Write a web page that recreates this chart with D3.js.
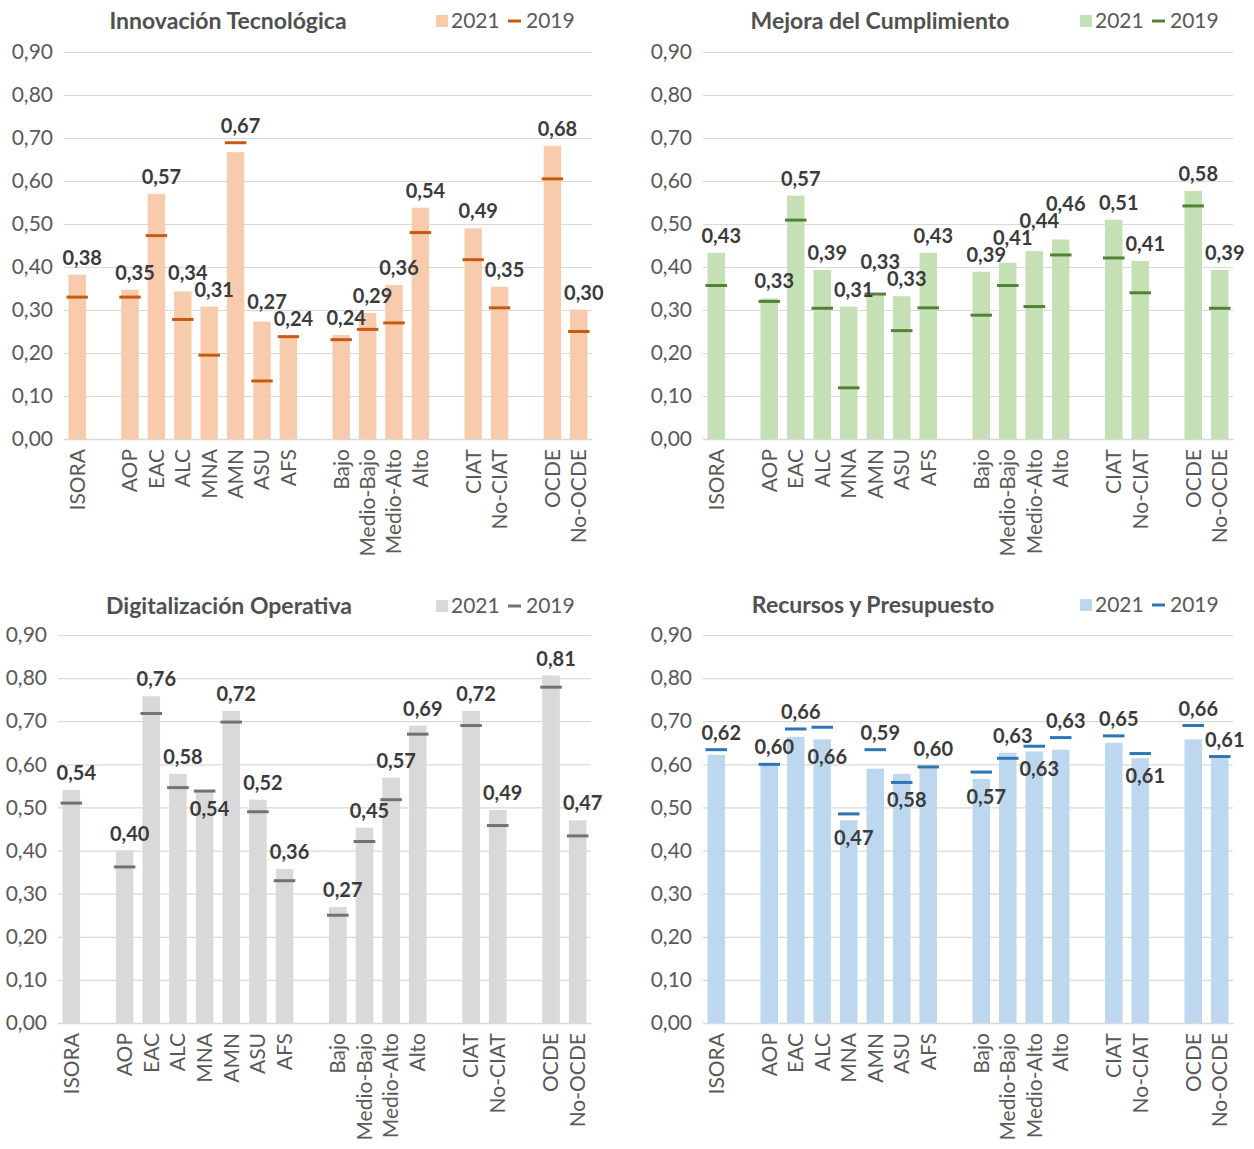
<!DOCTYPE html>
<html>
<head>
<meta charset="utf-8">
<script src="https://cdn.jsdelivr.net/npm/d3@7"></script>
<style>
  body { margin: 0; background: #fff; }
  text { font-family: Lato, "Noto Sans", sans-serif; }
</style>
</head>
<body>
<svg id="chart" width="1254" height="1149"></svg>
<script>
// categories (null = empty slot between groups)
const categories = ['ISORA', null, 'AOP', 'EAC', 'ALC', 'MNA', 'AMN', 'ASU', 'AFS', null,
  'Bajo', 'Medio-Bajo', 'Medio-Alto', 'Alto', null, 'CIAT', 'No-CIAT', null, 'OCDE', 'No-OCDE'];
const yTicks = [0, 0.1, 0.2, 0.3, 0.4, 0.5, 0.6, 0.7, 0.8, 0.9];
const legendLabels = ['2021', '2019'];

// values per real category, in order
const innov2021 = [0.382, 0.347, 0.570, 0.343, 0.308, 0.667, 0.273, 0.240, 0.242, 0.293, 0.358, 0.538, 0.490, 0.354, 0.682, 0.301];
const innov2019 = [0.330, 0.330, 0.473, 0.278, 0.195, 0.689, 0.135, 0.238, 0.231, 0.255, 0.270, 0.480, 0.417, 0.305, 0.605, 0.250];

const mejora2021 = [0.433, 0.327, 0.566, 0.393, 0.308, 0.334, 0.332, 0.433, 0.389, 0.410, 0.437, 0.464, 0.510, 0.414, 0.577, 0.393];
const mejora2019 = [0.357, 0.320, 0.509, 0.304, 0.119, 0.337, 0.252, 0.305, 0.288, 0.357, 0.308, 0.428, 0.421, 0.340, 0.542, 0.304];

const digi2021 = [0.541, 0.400, 0.758, 0.578, 0.540, 0.724, 0.518, 0.357, 0.269, 0.453, 0.569, 0.690, 0.724, 0.494, 0.806, 0.470];
const digi2019 = [0.510, 0.362, 0.718, 0.546, 0.538, 0.698, 0.490, 0.330, 0.250, 0.421, 0.518, 0.670, 0.690, 0.458, 0.779, 0.434];

const recursos2021 = [0.622, 0.600, 0.664, 0.658, 0.470, 0.590, 0.578, 0.596, 0.566, 0.627, 0.630, 0.634, 0.650, 0.614, 0.658, 0.614];
const recursos2019 = [0.634, 0.600, 0.682, 0.686, 0.485, 0.634, 0.558, 0.594, 0.582, 0.614, 0.642, 0.662, 0.666, 0.625, 0.690, 0.618];

// categories whose value label sits under the bar top
const digiBelow = ['MNA'];
const recursosBelow = ['ALC', 'MNA', 'ASU', 'Bajo', 'Medio-Alto', 'No-CIAT'];

const fmt = v => d3.format('.2f')(v).replace('.', ',');
const svg = d3.select('#chart');

const panels = [
  { title: 'Innovación Tecnológica', v21: innov2021, v19: innov2019, below: [],
    fill: '#F8CBAD', stroke: '#C55A11', x0: 64, x1: 592, yT: 52, yB: 439, titleX: 228, titleY: 21, legX: 436 },
  { title: 'Mejora del Cumplimiento', v21: mejora2021, v19: mejora2019, below: [],
    fill: '#C5E0B4', stroke: '#538135', x0: 703, x1: 1233, yT: 52, yB: 439, titleX: 880, titleY: 21, legX: 1080 },
  { title: 'Digitalización Operativa', v21: digi2021, v19: digi2019, below: digiBelow,
    fill: '#D9D9D9', stroke: '#767171', x0: 58, x1: 591, yT: 635, yB: 1023, titleX: 229, titleY: 606, legX: 436 },
  { title: 'Recursos y Presupuesto', v21: recursos2021, v19: recursos2019, below: recursosBelow,
    fill: '#BDD7EE', stroke: '#2E75B6', x0: 703, x1: 1233, yT: 635, yB: 1023, titleX: 873, titleY: 605, legX: 1080 }
];

const LABEL_H = 17;

const drawPanel = (p) => {
  const g = svg.append('g').attr('class', 'panel');

  const x = d3.scaleBand()
    .domain(d3.range(categories.length))
    .range([p.x0, p.x1])
    .paddingInner(0.34)
    .paddingOuter(0.17);
  const y = d3.scaleLinear().domain([0, 0.9]).range([p.yB, p.yT]);

  // gridlines + y labels
  const yAxis = d3.axisLeft(y).tickValues(yTicks).tickFormat(fmt)
    .tickSize(-(p.x1 - p.x0)).tickPadding(11);
  const ya = g.append('g').attr('transform', `translate(${p.x0},0)`).call(yAxis);
  ya.select('.domain').remove();
  ya.selectAll('line').attr('stroke', '#D9D9D9').attr('stroke-width', 1.2);
  ya.selectAll('text').attr('fill', '#595959').style('font-size', '21px');

  // x labels
  const xa = g.append('g').attr('transform', `translate(0,${p.yB})`)
    .call(d3.axisBottom(x).tickSize(0).tickFormat(i => categories[i] || ''));
  xa.select('.domain').attr('stroke', '#D9D9D9').attr('stroke-width', 1.5);
  xa.selectAll('text')
    .attr('fill', '#595959').style('font-size', '21px')
    .attr('text-anchor', 'end')
    .attr('transform', 'rotate(-90)')
    .attr('x', -10).attr('y', 0).attr('dy', '0.35em');

  const rows = [];
  let k = 0;
  categories.forEach((c, i) => {
    if (c) { rows.push({ i, cat: c, v21: p.v21[k], v19: p.v19[k] }); k++; }
  });

  g.selectAll('.bar').data(rows).enter().append('rect')
    .attr('class', 'bar')
    .attr('x', d => x(d.i))
    .attr('width', x.bandwidth())
    .attr('y', d => y(d.v21))
    .attr('height', d => y(0) - y(d.v21))
    .attr('fill', p.fill);

  g.selectAll('.mark').data(rows).enter().append('line')
    .attr('class', 'mark')
    .attr('x1', d => x(d.i) - 2)
    .attr('x2', d => x(d.i) + x.bandwidth() + 2)
    .attr('y1', d => y(d.v19))
    .attr('y2', d => y(d.v19))
    .attr('stroke', p.stroke)
    .attr('stroke-width', 3);

  // label positions: above the higher mark, or below the lower one
  rows.forEach(d => {
    d.below = p.below.includes(d.cat);
    d.lx = x(d.i) + x.bandwidth() / 2 + 5;
    d.ly = d.below ? y(Math.min(d.v21, d.v19)) + 25 : y(Math.max(d.v21, d.v19)) - 10;
  });

  const lbl = g.selectAll('.lbl').data(rows).enter().append('text')
    .attr('class', 'lbl')
    .attr('text-anchor', 'middle')
    .attr('fill', '#3b3b3b')
    .style('font-size', '20px')
    .style('font-weight', 'bold')
    .text(d => fmt(d.v21));
  lbl.each(function (d) { d.w = this.getComputedTextLength(); });

  // neighbours that collide: lift the higher value's label over the other
  for (let j = 1; j < rows.length; j++) {
    const a = rows[j - 1], b = rows[j];
    if (a.below || b.below) continue;
    const hit = Math.abs(a.lx - b.lx) < (a.w + b.w) / 2 && Math.abs(a.ly - b.ly) < LABEL_H;
    if (!hit) continue;
    if (b.v21 >= a.v21) b.ly = Math.min(b.ly, a.ly - LABEL_H);
    else a.ly = Math.min(a.ly, b.ly - LABEL_H);
  }

  lbl.attr('x', d => d.lx).attr('y', d => d.ly);

  // title
  g.append('text')
    .attr('x', p.titleX).attr('y', p.titleY)
    .attr('dy', '0.35em')
    .attr('text-anchor', 'middle')
    .attr('fill', '#505050')
    .style('font-size', '23px')
    .style('font-weight', 'bold')
    .text(p.title);

  // legend
  const lg = g.append('g').attr('transform', `translate(${p.legX},${p.titleY})`);
  lg.append('rect').attr('x', 0).attr('y', -6).attr('width', 12).attr('height', 12).attr('fill', p.fill);
  lg.append('text').attr('x', 15).attr('dy', '0.35em').attr('fill', '#595959')
    .style('font-size', '21px').text(legendLabels[0]);
  lg.append('line').attr('x1', 72).attr('x2', 85).attr('y1', 0).attr('y2', 0)
    .attr('stroke', p.stroke).attr('stroke-width', 3);
  lg.append('text').attr('x', 90).attr('dy', '0.35em').attr('fill', '#595959')
    .style('font-size', '21px').text(legendLabels[1]);
};

panels.forEach(drawPanel);
</script>
</body>
</html>
